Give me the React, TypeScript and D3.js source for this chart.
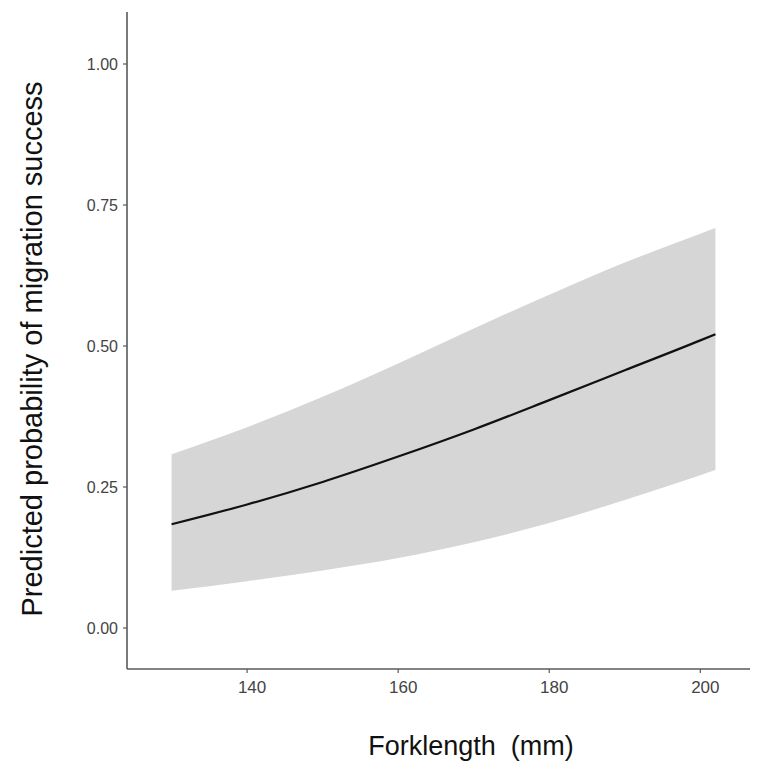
import React, { useEffect, useRef } from 'react';
import * as d3 from 'd3';

const forkLength = [130, 140, 150, 160, 170, 180, 190, 200, 202];
// predicted probability and its 95% band
const predicted = [0.184, 0.219, 0.259, 0.304, 0.352, 0.404, 0.457, 0.51, 0.521];
const upperCI = [0.308, 0.356, 0.41, 0.469, 0.531, 0.591, 0.648, 0.699, 0.709];
const lowerCI = [0.066, 0.083, 0.102, 0.124, 0.152, 0.186, 0.227, 0.271, 0.28];

const xTicks = [140, 160, 180, 200];
const yTicks = [0, 0.25, 0.5, 0.75, 1];

const width = 759;
const height = 762;

export default function App() {
  const ref = useRef<SVGSVGElement>(null);

  useEffect(() => {
    const svg = d3.select(ref.current);
    svg.selectAll('*').remove();

    const x = d3.scaleLinear().domain([124.1, 207.9]).range([127, 760]);
    const y = d3.scaleLinear().domain([0, 1]).range([628, 64]);
    const axisY = 669;
    const axisX = 127;

    const rows = forkLength.map((f, i) => ({
      f,
      p: predicted[i],
      lo: lowerCI[i],
      hi: upperCI[i]
    }));

    const band = d3.area<any>()
      .x(d => x(d.f))
      .y0(d => y(d.lo))
      .y1(d => y(d.hi))
      .curve(d3.curveMonotoneX);

    const line = d3.line<any>()
      .x(d => x(d.f))
      .y(d => y(d.p))
      .curve(d3.curveMonotoneX);

    svg.append('path')
      .datum(rows)
      .attr('d', band)
      .attr('fill', '#d6d6d6');

    svg.append('path')
      .datum(rows)
      .attr('d', line)
      .attr('fill', 'none')
      .attr('stroke', '#111')
      .attr('stroke-width', 2.2);

    // axes
    const axisColor = '#5a5a5a';
    svg.append('line')
      .attr('x1', axisX).attr('x2', axisX)
      .attr('y1', y(1.092)).attr('y2', axisY)
      .attr('stroke', axisColor).attr('stroke-width', 1.6);
    svg.append('line')
      .attr('x1', axisX).attr('x2', 750)
      .attr('y1', axisY).attr('y2', axisY)
      .attr('stroke', axisColor).attr('stroke-width', 1.6);

    const font = 'Arial, "Liberation Sans", sans-serif';

    const yt = svg.append('g').selectAll('g').data(yTicks).join('g');
    yt.append('line')
      .attr('x1', axisX - 4).attr('x2', axisX)
      .attr('y1', d => y(d)).attr('y2', d => y(d))
      .attr('stroke', axisColor).attr('stroke-width', 1.2);
    yt.append('text')
      .attr('x', axisX - 9)
      .attr('y', d => y(d))
      .attr('dy', '0.36em')
      .attr('text-anchor', 'end')
      .attr('font-family', font)
      .attr('font-size', 16)
      .attr('fill', '#444')
      .text(d => d3.format('.2f')(d));

    const xt = svg.append('g').selectAll('g').data(xTicks).join('g');
    xt.append('line')
      .attr('x1', d => x(d)).attr('x2', d => x(d))
      .attr('y1', axisY).attr('y2', axisY + 4)
      .attr('stroke', axisColor).attr('stroke-width', 1.2);
    xt.append('text')
      .attr('x', d => x(d) + 5)
      .attr('y', 693)
      .attr('text-anchor', 'middle')
      .attr('font-family', font)
      .attr('font-size', 17)
      .attr('fill', '#444')
      .text(d => d);

    svg.append('text')
      .attr('x', 471)
      .attr('y', 755)
      .attr('text-anchor', 'middle')
      .attr('font-family', font)
      .attr('font-size', 27)
      .attr('fill', '#111')
      .style('white-space', 'pre')
      .text('Forklength  (mm)');

    svg.append('text')
      .attr('transform', 'translate(42, 349) rotate(-90)')
      .attr('text-anchor', 'middle')
      .attr('font-family', font)
      .attr('font-size', 29)
      .attr('fill', '#111')
      .text('Predicted probability of migration success');
  }, []);

  return (
    <svg
      ref={ref}
      width={width}
      height={height}
      style={{ position: 'absolute', left: 0, top: 0, background: '#fff' }}
    />
  );
}
